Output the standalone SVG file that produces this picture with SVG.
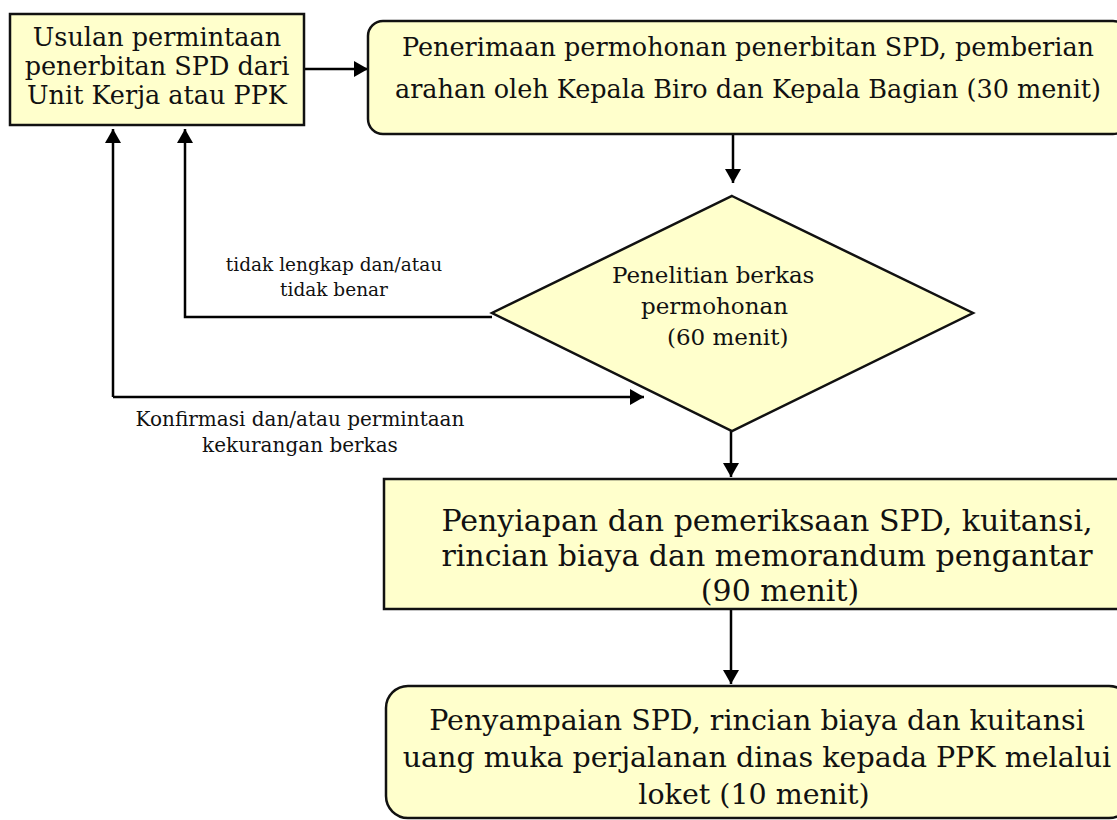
<svg xmlns="http://www.w3.org/2000/svg" width="1117" height="820" viewBox="0 0 1117 820">
<defs>
<marker id="ah" markerUnits="userSpaceOnUse" markerWidth="16" markerHeight="16" refX="14" refY="8" orient="auto">
<path d="M0,0 L14,8 L0,16 Z" fill="#000"/>
</marker>
<style>
.box{fill:#FFFFCC;stroke:#111;stroke-width:2.5}
.t{font-family:"DejaVu Serif","Liberation Serif",serif;fill:#111;text-anchor:middle}
.lbl{font-family:"DejaVu Serif","Liberation Serif",serif;fill:#111;text-anchor:middle}
.c{fill:none;stroke:#000;stroke-width:2.5}
</style>
</defs>
<rect width="1117" height="820" fill="#fff"/>
<g id="connectors">
<line class="c" x1="304" y1="69" x2="368" y2="69" marker-end="url(#ah)"/>
<line class="c" x1="733" y1="134" x2="733" y2="183" marker-end="url(#ah)"/>
<line class="c" x1="731" y1="431" x2="731" y2="477" marker-end="url(#ah)"/>
<line class="c" x1="731" y1="609" x2="731" y2="684" marker-end="url(#ah)"/>
<polyline class="c" points="492,317 185,317 185,129" marker-end="url(#ah)"/>
<line class="c" x1="113" y1="397" x2="113" y2="129" marker-end="url(#ah)"/>
<line class="c" x1="113" y1="397" x2="644" y2="397" marker-end="url(#ah)"/>
<text class="lbl" font-size="18.5" x="334" y="271">tidak lengkap dan/atau</text>
<text class="lbl" font-size="18.5" x="334" y="296">tidak benar</text>
<text class="lbl" font-size="20" x="300" y="426">Konfirmasi dan/atau permintaan</text>
<text class="lbl" font-size="20" x="300" y="452">kekurangan berkas</text>
</g>
<g id="node-usulan">
<rect class="box" x="10" y="14" width="294" height="111"/>
<text class="t" font-size="25.5" x="157" y="46">Usulan permintaan</text>
<text class="t" font-size="25.5" x="157" y="75">penerbitan SPD dari</text>
<text class="t" font-size="25.5" x="157" y="104">Unit Kerja atau PPK</text>
</g>
<g id="node-penerimaan">
<rect class="box" x="368" y="21" width="760" height="113" rx="15"/>
<text class="t" font-size="25.5" x="748" y="56">Penerimaan permohonan penerbitan SPD, pemberian</text>
<text class="t" font-size="25.5" x="748" y="98">arahan oleh Kepala Biro dan Kepala Bagian (30 menit)</text>
</g>
<g id="node-penelitian">
<polygon class="box" points="732,196 973,313 732,431 492,313"/>
<text class="t" font-size="23" x="612" y="283" style="text-anchor:start">Penelitian berkas</text>
<text class="t" font-size="23" x="641" y="314" style="text-anchor:start">permohonan</text>
<text class="t" font-size="23" x="667" y="345" style="text-anchor:start">(60 menit)</text>
</g>
<g id="node-penyiapan">
<rect class="box" x="384" y="479" width="745" height="130"/>
<text class="t" font-size="30" x="767" y="531">Penyiapan dan pemeriksaan SPD, kuitansi,</text>
<text class="t" font-size="30" x="767" y="566">rincian biaya dan memorandum pengantar</text>
<text class="t" font-size="30" x="780" y="601">(90 menit)</text>
</g>
<g id="node-penyampaian">
<rect class="box" x="386" y="686" width="745" height="132" rx="22"/>
<text class="t" font-size="28.5" x="757" y="730">Penyampaian SPD, rincian biaya dan kuitansi</text>
<text class="t" font-size="28.5" x="757" y="767">uang muka perjalanan dinas kepada PPK melalui</text>
<text class="t" font-size="28.5" x="754" y="804">loket (10 menit)</text>
</g>
</svg>
